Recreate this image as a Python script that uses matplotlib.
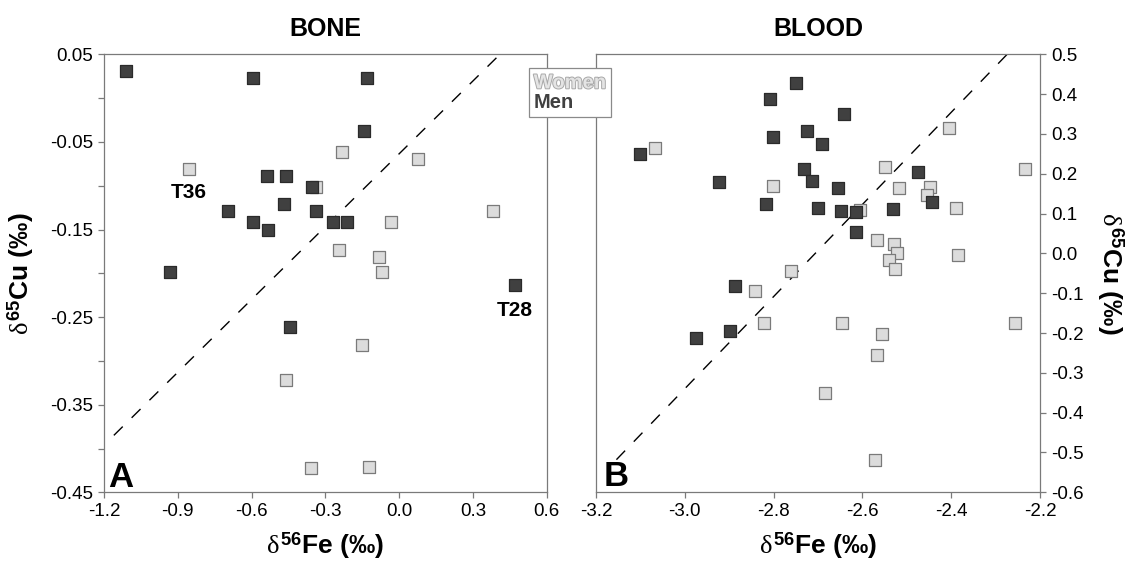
import matplotlib
matplotlib.use("Agg")
import matplotlib.pyplot as plt
import matplotlib.patheffects as pe
from matplotlib.lines import Line2D

plt.rcParams["font.family"] = ["Liberation Sans", "DejaVu Sans"]
plt.rcParams["axes.unicode_minus"] = False
plt.rcParams["mathtext.fontset"] = "custom"
plt.rcParams["mathtext.rm"] = "Liberation Sans:bold"
plt.rcParams["mathtext.bf"] = "Liberation Sans:bold"
plt.rcParams["mathtext.it"] = "Liberation Serif"

# ---- data: bone (panel A) ----
bone_men_fe = [-1.110, -0.593, -0.130, -0.141, -0.538, -0.458, -0.356, -0.468, -0.695,
               -0.340, -0.596, -0.535, -0.269, -0.213, -0.931, 0.472, -0.445]
bone_men_cu = [0.031, 0.023, 0.023, -0.037, -0.089, -0.089, -0.101, -0.121, -0.129,
               -0.129, -0.141, -0.150, -0.141, -0.141, -0.198, -0.213, -0.261]
bone_women_fe = [-0.855, -0.231, 0.075, -0.336, -0.035, 0.382, -0.244, -0.081, -0.071,
                 -0.152, -0.459, -0.359, -0.122]
bone_women_cu = [-0.081, -0.061, -0.070, -0.101, -0.141, -0.129, -0.173, -0.181, -0.199,
                 -0.282, -0.322, -0.422, -0.421]
bone_line_fe = [-1.16, 0.41]
bone_line_cu = [-0.385, 0.05]

# ---- data: blood (panel B) ----
blood_men_fe = [-3.100, -2.923, -2.816, -2.808, -2.801, -2.750, -2.725, -2.692, -2.731,
                -2.714, -2.700, -2.641, -2.654, -2.648, -2.615, -2.614, -2.531, -2.474,
                -2.443, -2.887, -2.899, -2.975]
blood_men_cu = [0.250, 0.179, 0.124, 0.387, 0.292, 0.429, 0.307, 0.274, 0.211,
                0.181, 0.113, 0.350, 0.165, 0.107, 0.104, 0.054, 0.112, 0.204,
                0.129, -0.083, -0.195, -0.213]
blood_women_fe = [-3.068, -2.801, -2.550, -2.518, -2.448, -2.455, -2.405, -2.389, -2.233,
                  -2.606, -2.568, -2.529, -2.522, -2.539, -2.526, -2.384, -2.760, -2.842,
                  -2.821, -2.646, -2.555, -2.568, -2.684, -2.572, -2.256]
blood_women_cu = [0.264, 0.169, 0.218, 0.164, 0.166, 0.146, 0.316, 0.115, 0.212,
                  0.109, 0.034, 0.024, 0.002, -0.016, -0.040, -0.003, -0.045, -0.094,
                  -0.176, -0.174, -0.202, -0.255, -0.350, -0.519, -0.174]
blood_line_fe = [-3.154, -2.274]
blood_line_cu = [-0.518, 0.50]

bone_xticks = [-1.2, -0.9, -0.6, -0.3, 0.0, 0.3, 0.6]
bone_yticks = [0.05, -0.05, -0.15, -0.25, -0.35, -0.45]
bone_yminor = [0.0, -0.1, -0.2, -0.3, -0.4]
blood_xticks = [-3.2, -3.0, -2.8, -2.6, -2.4, -2.2]
blood_yticks = [0.5, 0.4, 0.3, 0.2, 0.1, 0.0, -0.1, -0.2, -0.3, -0.4, -0.5, -0.6]

MEN = "#404040"
MEN_EDGE = "#2a2a2a"
WOMEN = "#dcdcdc"
WOMEN_EDGE = "#7a7a7a"
SPINE = "#7a7a7a"
CU_LABEL = r"$\delta^{65}$Cu (‰)"
FE_LABEL = r"$\delta^{56}$Fe (‰)"

fig = plt.figure(figsize=(11.26, 5.63), dpi=100)
ax1 = fig.add_axes([104 / 1126, 1 - 492.3 / 563, 442.7 / 1126, 438 / 563])
ax2 = fig.add_axes([596 / 1126, 1 - 492.3 / 563, 444 / 1126, 438 / 563])


def style(ax):
    for s in ax.spines.values():
        s.set_color(SPINE)
        s.set_linewidth(0.9)
    ax.tick_params(which="both", direction="out", length=4, width=0.9,
                   color=SPINE, labelsize=13.5, pad=4)


# ---- panel A: bone ----
ax = ax1
ax.scatter(bone_women_fe, bone_women_cu, marker="s", s=70, c=WOMEN,
           edgecolors=WOMEN_EDGE, linewidths=0.9, zorder=3)
ax.scatter(bone_men_fe, bone_men_cu, marker="s", s=70, c=MEN,
           edgecolors=MEN_EDGE, linewidths=0.9, zorder=4)
ax.plot(bone_line_fe, bone_line_cu, color="black", lw=1, dashes=(9, 9), zorder=2)
ax.set_xlim(-1.2, 0.6)
ax.set_ylim(-0.45, 0.05)
ax.set_xticks(bone_xticks)
ax.set_xticklabels([f"{v:.1f}" for v in bone_xticks])
ax.set_yticks(bone_yticks)
ax.set_yticklabels([f"{v:.2f}" for v in bone_yticks])
ax.set_yticks(bone_yminor, minor=True)
style(ax)
ax.set_xlabel(FE_LABEL, fontsize=19, fontweight="bold", labelpad=7)
ax.set_ylabel(CU_LABEL, fontsize=19, fontweight="bold", labelpad=10)
ax.set_title("BONE", fontsize=18, fontweight="bold", pad=13)
ax.text(-0.855, -0.1076, "T36", fontsize=15, fontweight="bold", ha="center", va="center")
ax.text(0.472, -0.242, "T28", fontsize=15, fontweight="bold", ha="center", va="center")
ax.text(0.009, 0.013, "A", transform=ax.transAxes, fontsize=25, fontweight="bold",
        ha="left", va="baseline")

# ---- panel B: blood ----
ax = ax2
ax.scatter(blood_women_fe, blood_women_cu, marker="s", s=70, c=WOMEN,
           edgecolors=WOMEN_EDGE, linewidths=0.9, zorder=3)
ax.scatter(blood_men_fe, blood_men_cu, marker="s", s=70, c=MEN,
           edgecolors=MEN_EDGE, linewidths=0.9, zorder=4)
ax.plot(blood_line_fe, blood_line_cu, color="black", lw=1, dashes=(9, 9), zorder=2)
ax.set_xlim(-3.2, -2.2)
ax.set_ylim(-0.6, 0.5)
ax.set_xticks(blood_xticks)
ax.set_xticklabels([f"{v:.1f}" for v in blood_xticks])
ax.yaxis.tick_right()
ax.set_yticks(blood_yticks)
ax.set_yticklabels([f"{v:.1f}" for v in blood_yticks])
style(ax)
ax.yaxis.set_label_position("right")
ax.set_xlabel(FE_LABEL, fontsize=19, fontweight="bold", labelpad=7)
ax.set_ylabel(CU_LABEL, fontsize=19, fontweight="bold", rotation=270,
              va="bottom", labelpad=8)
ax.set_title("BLOOD", fontsize=18, fontweight="bold", pad=13)
ax.text(0.018, 0.015, "B", transform=ax.transAxes, fontsize=25, fontweight="bold",
        ha="left", va="baseline")

# ---- legend between panels ----
handles = [Line2D([], [], linestyle="none"), Line2D([], [], linestyle="none")]
leg = fig.legend(handles, ["Women", "Men"], loc="upper left",
                 bbox_to_anchor=(528.7 / 1126, 1 - 68.3 / 563), borderaxespad=0,
                 handlelength=0, handletextpad=0, borderpad=0.25, labelspacing=0.05,
                 fancybox=False, framealpha=1, edgecolor="#8a8a8a",
                 prop={"size": 14.5, "weight": "bold"})
leg.get_frame().set_linewidth(0.9)
women_txt, men_txt = leg.get_texts()
women_txt.set_color("#e4e4e4")
women_txt.set_path_effects([pe.withStroke(linewidth=1.4, foreground="#a8a8a8")])
men_txt.set_color(MEN)

fig.savefig("out.png", dpi=100)
